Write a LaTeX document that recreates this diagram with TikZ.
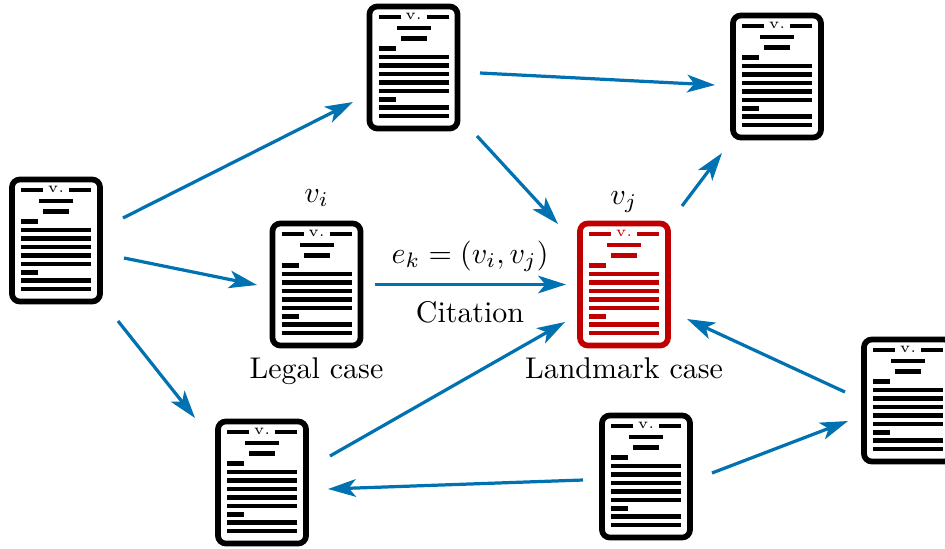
\documentclass[tikz,border=0pt]{standalone}
\usepackage{amsmath}
\usetikzlibrary{arrows.meta,calc}
\definecolor{citeblue}{RGB}{0,114,178}
\definecolor{landmarkred}{RGB}{192,0,0}
\tikzset{
    casebox/.style={draw, rectangle, rounded corners=2.7pt, line width=1.95pt, inner sep=0pt,
        minimum width=1.056cm, minimum height=1.464cm},
    citeedge/.style={draw=citeblue, line width=1.1pt,
        -{Stealth[length=9.5pt,width=6pt,inset=2.4pt]}},
    caselabel/.style={inner sep=0pt, scale=1.022, anchor=base}
}
% one case document: name, x, y, colour
\newcommand{\casedoc}[4]{
    \node[casebox, draw=#4] (#1) at (#2,#3) {};
    \begin{scope}[shift={(#1.center)}, draw=#4, line width=1.6pt]
        \draw (-35,50.5) -- (-13,50.5);
        \draw (13,50.5) -- (35,50.5);
        \node[inner sep=0pt, text=#4] (#1title) at (0,51) {\tiny v.};
        \draw (-17,39.5) -- (17,39.5);
        \draw (-13,29) -- (13,29);
        \draw (-35,19) -- (-18,19);
        \foreach \y in {10.5,2,-6.5,-15,-23.5,-40,-48.5} {
            \draw (-35,\y) -- (35,\y);
        }
        \draw (-35,-32) -- (-18,-32);
    \end{scope}
}
\begin{document}
\begin{tikzpicture}[x=0.012cm, y=0.012cm]
    \useasboundingbox (0,0) rectangle (945,548);
    % Case documents
    \casedoc{docA}{56}{307.5}{black}
    \casedoc{docB}{413.5}{480.5}{black}
    \casedoc{docC}{777}{471.5}{black}
    \casedoc{docD}{316.5}{263.5}{black}
    \casedoc{docE}{624}{263.5}{landmarkred}
    \casedoc{docF}{262}{65.5}{black}
    \casedoc{docG}{646}{71.5}{black}
    \casedoc{docH}{908}{147.5}{black}
    % Citations
    \draw[citeedge] ($(docA)+(67,22.5)$) -- ($(docB)+(-60.5,-34.5)$);
    \draw[citeedge] ($(docA)+(68,-17.5)$) -- ($(docD)+(-59.5,-0.5)$);
    \draw[citeedge] ($(docA)+(62,-80.5)$) -- ($(docF)+(-67,64.5)$);
    \draw[citeedge] ($(docB)+(66.5,-5.5)$) -- ($(docC)+(-62,-8.5)$);
    \draw[citeedge] ($(docB)+(63.5,-68.5)$) -- ($(docE)+(-66,60.5)$);
    \draw[citeedge] ($(docD)+(58.5,0)$) -- ($(docE)+(-58,0)$);
    \draw[citeedge] ($(docE)+(58,78.5)$) -- ($(docC)+(-55,-76.5)$);
    \draw[citeedge] ($(docF)+(68,26.5)$) -- ($(docE)+(-59,-37.5)$);
    \draw[citeedge] ($(docG)+(-63,-3.5)$) -- ($(docF)+(66,-6.5)$);
    \draw[citeedge] ($(docG)+(66,3.5)$) -- ($(docH)+(-60,-20.5)$);
    \draw[citeedge] ($(docH)+(-63,8.5)$) -- ($(docE)+(63,-34.5)$);
    % Labels
    \node[caselabel] (labelvi) at (316.5,346) {$v_i$};
    \node[caselabel] (labelvj) at (624,344) {$v_j$};
    \node[caselabel] (labeledge) at (470,285) {$e_k = (v_i, v_j)$};
    \node[caselabel] (labelcite) at (470,226) {Citation};
    \node[caselabel] (labellegal) at (316.5,170) {Legal case};
    \node[caselabel] (labelmark) at (624,170) {Landmark case};
\end{tikzpicture}
\end{document}
